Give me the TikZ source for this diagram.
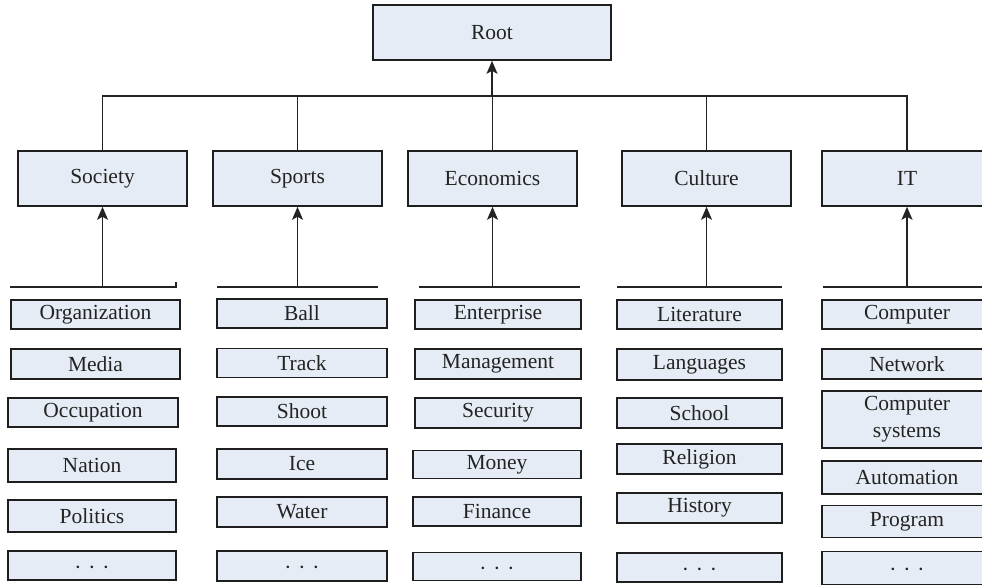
\documentclass[tikz,border=0pt]{standalone}
\usepackage{fontspec}
\setmainfont{Liberation Serif}
\usetikzlibrary{arrows.meta}
\definecolor{boxfill}{RGB}{230,236,245}
\definecolor{boxline}{RGB}{30,30,30}
\definecolor{wirecol}{RGB}{35,35,35}
\definecolor{textcol}{RGB}{35,35,35}
% three centred dots, lowered so they sit at the middle of their box
\newcommand{\dotrow}{\smash{\raisebox{-8.5pt}{·\hspace{0.32em}·\hspace{0.32em}·}}}
\tikzset{
  box/.style={draw=boxline, fill=boxfill, line width=1.6pt, inner sep=0pt,
    text=textcol, align=center, font=\fontsize{21.5}{27}\selectfont},
  wire/.style={draw=wirecol, line width=1.5pt},
  arr/.style={wire, -{Stealth[length=13pt, width=11pt, inset=3pt]}},
}
\begin{document}
\begin{tikzpicture}[x=1pt, y=-1pt]
\useasboundingbox (0,0) rectangle (982,586);
\fill[white] (0,0) rectangle (982,586);
\clip (0,0) rectangle (982,586);

% top level
\node[box, minimum width=238, minimum height=55] (root) at (492,32.5) {Root};

% categories
\node[box, minimum width=169, minimum height=55] (society)   at (102.5,178.5) {Society};
\node[box, minimum width=169, minimum height=55] (sports)    at (297.5,178.5) {Sports};
\node[box, minimum width=169, minimum height=55] (economics) at (492.5,178.5) {Economics};
\node[box, minimum width=169, minimum height=55] (culture)   at (706.5,178.5) {Culture};
\node[box, minimum width=170, minimum height=55] (it)        at (907,178.5)   {IT};

% bus joining the categories to the root
\coordinate (bus) at (492,96);
\draw[wire] (society.north) -- (society.north |- bus) -- (it.north |- bus) -- (it.north);
\draw[wire] (sports.north) -- (sports.north |- bus);
\draw[wire] (economics.north) -- (economics.north |- bus);
\draw[wire] (culture.north) -- (culture.north |- bus);
\draw[arr] (bus) -- (root.south);

% Society terms
\node[box, minimum width=169, minimum height=29] (s1) at (95.5,314.5) {Organization};
\node[box, minimum width=169, minimum height=30] (s2) at (95.5,364)   {Media};
\node[box, minimum width=170, minimum height=29] (s3) at (93,412.5)   {Occupation};
\node[box, minimum width=168, minimum height=33] (s4) at (92,465.5)   {Nation};
\node[box, minimum width=168, minimum height=32] (s5) at (92,516)     {Politics};
\node[box, minimum width=168, minimum height=29] (s6) at (92,565.5)   {\dotrow};

% Sports terms
\node[box, minimum width=170, minimum height=29] (p1) at (302,313.5) {Ball};
\node[box, minimum width=170, minimum height=29] (p2) at (302,363)   {Track};
\node[box, minimum width=170, minimum height=29] (p3) at (302,411.5) {Shoot};
\node[box, minimum width=170, minimum height=30] (p4) at (302,464)   {Ice};
\node[box, minimum width=170, minimum height=30] (p5) at (302,512)   {Water};
\node[box, minimum width=170, minimum height=30] (p6) at (302,566)   {\dotrow};

% Economics terms
\node[box, minimum width=166, minimum height=29] (e1) at (498,314.5) {Enterprise};
\node[box, minimum width=166, minimum height=30] (e2) at (498,364)   {Management};
\node[box, minimum width=166, minimum height=30] (e3) at (498,413)   {Security};
\node[box, minimum width=168, minimum height=28] (e4) at (497,464.5) {Money};
\node[box, minimum width=168, minimum height=29] (e5) at (497,511.5) {Finance};
\node[box, minimum width=168, minimum height=28] (e6) at (497,566.5) {\dotrow};

% Culture terms
\node[box, minimum width=165, minimum height=29] (c1) at (699.5,314.5) {Literature};
\node[box, minimum width=165, minimum height=31] (c2) at (699.5,364.5) {Languages};
\node[box, minimum width=165, minimum height=30] (c3) at (699.5,413)   {School};
\node[box, minimum width=165, minimum height=30] (c4) at (699.5,459)   {Religion};
\node[box, minimum width=165, minimum height=30] (c5) at (699.5,508)   {History};
\node[box, minimum width=165, minimum height=29] (c6) at (699.5,567.5) {\dotrow};

% IT terms
\node[box, minimum width=170, minimum height=29] (i1) at (907,314.5) {Computer};
\node[box, minimum width=170, minimum height=30] (i2) at (907,364)   {Network};
\node[box, minimum width=170, minimum height=57] (i3) at (907,419.5) {Computer\\systems};
\node[box, minimum width=170, minimum height=33] (i4) at (907,477.5) {Automation};
\node[box, minimum width=170, minimum height=32] (i5) at (907,521.5) {Program};
\node[box, minimum width=170, minimum height=33] (i6) at (907,568)   {\dotrow};

% brackets gathering each column's terms
\coordinate (sbl) at (10,287);  \coordinate (sbr) at (176,287);
\coordinate (pbl) at (217,287); \coordinate (pbr) at (378,287);
\coordinate (ebl) at (419,287); \coordinate (ebr) at (580,287);
\coordinate (cbl) at (617,287); \coordinate (cbr) at (782,287);
\coordinate (ibl) at (823,287); \coordinate (ibr) at (990,287);

\draw[wire] (sbl) -- (sbr) -- ++(0,-5);
\draw[wire] (pbl) -- (pbr);
\draw[wire] (ebl) -- (ebr);
\draw[wire] (cbl) -- (cbr);
\draw[wire] (ibl) -- (ibr);

\draw[arr] (society.south |- sbl) -- (society.south);
\draw[arr] (sports.south |- pbl) -- (sports.south);
\draw[arr] (economics.south |- ebl) -- (economics.south);
\draw[arr] (culture.south |- cbl) -- (culture.south);
\draw[arr] (it.south |- ibl) -- (it.south);
\end{tikzpicture}
\end{document}
